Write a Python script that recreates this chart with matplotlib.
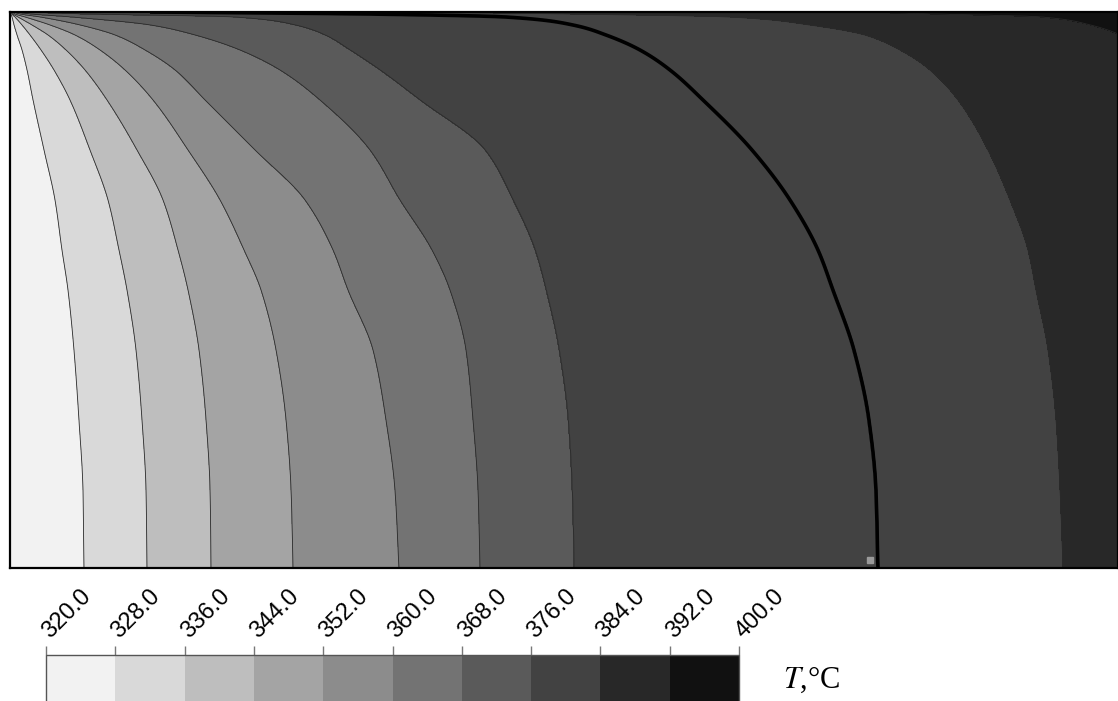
import numpy as np
import matplotlib
matplotlib.use("Agg")
import matplotlib.pyplot as plt
from matplotlib.transforms import ScaledTranslation

plt.rcParams['mathtext.fontset'] = 'stix'

# temperature levels (deg C) and the grey of each band
levels = [320, 328, 336, 344, 352, 360, 368, 376, 384, 392, 400]
band_colors = ['#f2f2f2', '#d9d9d9', '#bebebe', '#a4a4a4', '#8c8c8c',
               '#737373', '#5a5a5a', '#424242', '#282828', '#111111']

# isotherm positions: x of each isotherm at a given depth
depth_rows = [0, 2, 5, 13, 23, 38, 58, 88, 138, 188, 238, 278, 338, 408, 478, 556]
iso_328 = [0.5, 1, 2, 4, 7, 12, 17, 23, 34, 45, 52, 58, 64, 69, 73, 74]
iso_336 = [1, 2, 5, 12, 20, 31, 44, 60, 80, 98, 109, 117, 126, 132, 136, 137]
iso_344 = [1.5, 3, 8, 22, 38, 56, 75, 97, 127, 153, 168, 178, 189, 196, 200, 201]
iso_352 = [2, 5, 15, 40, 65, 90, 115, 143, 178, 210, 234, 251, 266, 276, 281, 283]
iso_360 = [3, 10, 30, 70, 105, 135, 165, 195, 245, 295, 323, 338, 363, 376, 385, 389]
iso_368 = [5, 20, 60, 140, 185, 230, 270, 310, 360, 390, 422, 440, 456, 463, 468, 470]
iso_376 = [10, 70, 223, 285, 315, 340, 370, 410, 475, 503, 525, 536, 549, 558, 562, 564]
iso_380 = [140, 360, 496, 563, 596, 630, 660, 693, 742, 780, 808, 823, 844, 859, 866, 868]
iso_384 = [400, 560, 720, 800, 855, 890, 920, 948, 978, 1000, 1018, 1026, 1038, 1046, 1050, 1053]
iso_392 = [840, 920, 1030, 1080, 1110, 1135, 1180, 1240, 1300, 1350, 1400, 1450, 1500, 1550, 1600, 1650]
iso_levels = [328, 336, 344, 352, 360, 368, 376, 380, 384, 392]
iso_x = [iso_328, iso_336, iso_344, iso_352, iso_360, iso_368, iso_376, iso_380, iso_384, iso_392]

t_left = 321     # temperature at the left wall
probe = (860, 548)

width, depth = 1108, 556


def pchip(xk, yk, xq):
    # monotone cubic through the read points
    xk = np.asarray(xk, float)
    yk = np.asarray(yk, float)
    h = np.diff(xk)
    delta = np.diff(yk) / h
    m = np.zeros_like(yk)
    for k in range(1, len(xk) - 1):
        if delta[k-1] * delta[k] > 0:
            w1 = 2*h[k] + h[k-1]
            w2 = h[k] + 2*h[k-1]
            m[k] = (w1 + w2) / (w1/delta[k-1] + w2/delta[k])
    m[0] = delta[0]
    m[-1] = delta[-1]
    idx = np.clip(np.searchsorted(xk, xq) - 1, 0, len(h) - 1)
    t = (xq - xk[idx]) / h[idx]
    h00 = 2*t**3 - 3*t**2 + 1
    h10 = t**3 - 2*t**2 + t
    h01 = -2*t**3 + 3*t**2
    h11 = t**3 - t**2
    return h00*yk[idx] + h10*h[idx]*m[idx] + h01*yk[idx+1] + h11*h[idx]*m[idx+1]


# build the temperature field from the isotherm positions
x = np.linspace(0, width, 1109)
d = np.linspace(0, depth, 1113)
pos = np.array([pchip(depth_rows, xs, d) for xs in iso_x])
for k in range(1, len(pos)):
    pos[k] = np.maximum(pos[k], pos[k-1] + 0.2)
T = np.empty((len(d), len(x)))
fp = [t_left] + iso_levels + [400]
for i in range(len(d)):
    xp = np.concatenate([[0], pos[:, i], [2500]])
    T[i] = np.interp(x, xp, fp)
X, D = np.meshgrid(x, d)

fig = plt.figure(figsize=(11.18, 7.01), dpi=100)
ax = fig.add_axes([10/1118, 133/701, 1108/1118, 556/701])
cf = ax.contourf(X, D, T, levels=levels, colors=band_colors)
ax.contour(X, D, T, levels=levels[1:-1], colors='#2a2a2a', linewidths=0.6)
ax.contour(X, D, T, levels=[380], colors='k', linewidths=2.6)
ax.plot(probe[0], probe[1], 's', color='#9a9a9a', markersize=4)
ax.set_xlim(0, width)
ax.set_ylim(depth, 0)
ax.set_xticks([])
ax.set_yticks([])
for s in ax.spines.values():
    s.set_linewidth(1.6)
    s.set_color('black')

cax = fig.add_axes([46/1118, -0.04, 693/1118, 0.1056])
cb = fig.colorbar(cf, cax=cax, orientation='horizontal', ticks=levels)
cb.outline.set_edgecolor('#555555')
cb.outline.set_linewidth(1.0)
cax.xaxis.set_ticks_position('top')
cax.tick_params(axis='x', direction='out', length=6.5, width=1, color='#777777', pad=5)
cax.set_xticklabels(['%.1f' % v for v in levels], rotation=45, ha='left', va='baseline',
                    rotation_mode='anchor', fontsize=17, fontfamily='Liberation Sans')
shift = ScaledTranslation(4/100, 0, fig.dpi_scale_trans)
for lab in cax.get_xticklabels():
    lab.set_transform(lab.get_transform() + shift)

fig.text(783/1118, 0.03, r'$T$,°C', fontsize=22, fontfamily='Liberation Serif', va='center')

fig.savefig('out.png', dpi=100)
